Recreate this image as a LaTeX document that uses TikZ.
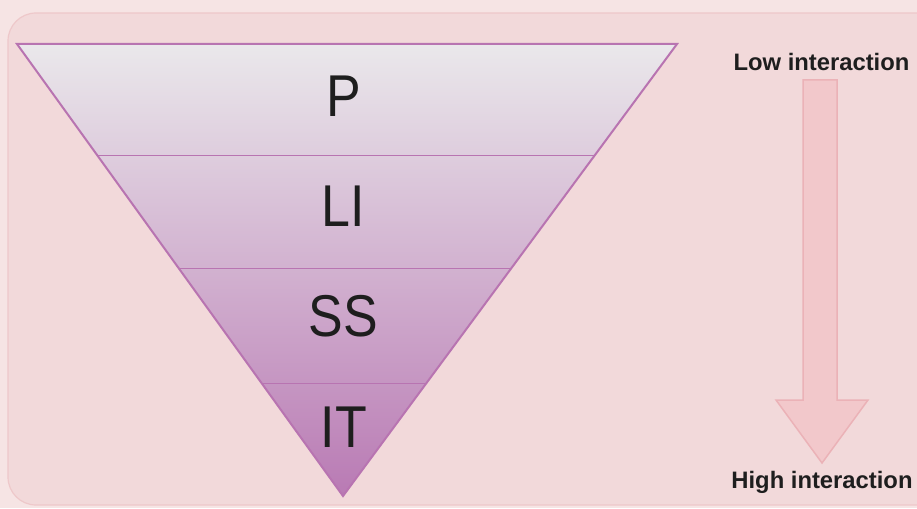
\documentclass[tikz,border=0pt]{standalone}
\usepackage{fontspec}
\setmainfont{Liberation Sans}
\newfontfamily\layerfont[FakeStretch=0.88]{Liberation Sans}
\usetikzlibrary{calc}
\definecolor{bgout}{HTML}{F6E4E4}
\definecolor{bgin}{HTML}{F2D9DA}
\definecolor{bgedge}{HTML}{EEC8CA}
\definecolor{funtop}{HTML}{EAE8EB}
\definecolor{funbot}{HTML}{B97AB4}
\definecolor{funedge}{HTML}{B874B1}
\definecolor{arrfill}{HTML}{F2C8CB}
\definecolor{arredge}{HTML}{EBB2B7}
\definecolor{txt}{HTML}{1E1E1E}
\tikzset{
  layerlabel/.style={font=\layerfont\fontsize{59}{62}\selectfont, text=txt, inner sep=0pt},
  sidelabel/.style={font=\bfseries\fontsize{23.8}{26}\selectfont, text=txt, inner sep=0pt, anchor=base},
  bandline/.style={draw=funedge, line width=1pt},
}
\begin{document}
\begin{tikzpicture}[x=1pt,y=-1pt]
\useasboundingbox (0,0) rectangle (917,508);
\fill[bgout] (0,0) rectangle (917,508);
\draw[bgedge, fill=bgin, line width=1.2pt, rounded corners=28pt] (8,13) rectangle (945,505);
% funnel
\coordinate (tl) at (17,44);
\coordinate (tr) at (677,44);
\coordinate (ap) at (343,496);
\shade[top color=funtop, bottom color=funbot] (tl) -- (tr) -- (ap) -- cycle;
\coordinate (l1) at ($(tl)!{111/452}!(ap)$);
\coordinate (r1) at ($(tr)!{111/452}!(ap)$);
\coordinate (l2) at ($(tl)!{224/452}!(ap)$);
\coordinate (r2) at ($(tr)!{224/452}!(ap)$);
\coordinate (l3) at ($(tl)!{339/452}!(ap)$);
\coordinate (r3) at ($(tr)!{339/452}!(ap)$);
\draw[bandline] (l1) -- (r1);
\draw[bandline] (l2) -- (r2);
\draw[bandline] (l3) -- (r3);
\draw[funedge, line width=2pt, line join=miter] (tl) -- (tr) -- (ap) -- cycle;
\node[layerlabel] (p) at (344,96) {P};
\node[layerlabel] (li) at (343,206.5) {LI};
\node[layerlabel] (ss) at (343,316.5) {SS};
\node[layerlabel] (it) at (344,427) {IT};
% arrow
\node[sidelabel] (low) at (821.5,71) {Low interaction};
\node[sidelabel] (high) at (822,488) {High interaction};
\draw[arredge, fill=arrfill, line width=1.5pt, line join=miter]
  (803,80) -- (837,80) -- (837,400) -- (868,400) -- (822,463) -- (776,400) -- (803,400) -- cycle;
\end{tikzpicture}
\end{document}
